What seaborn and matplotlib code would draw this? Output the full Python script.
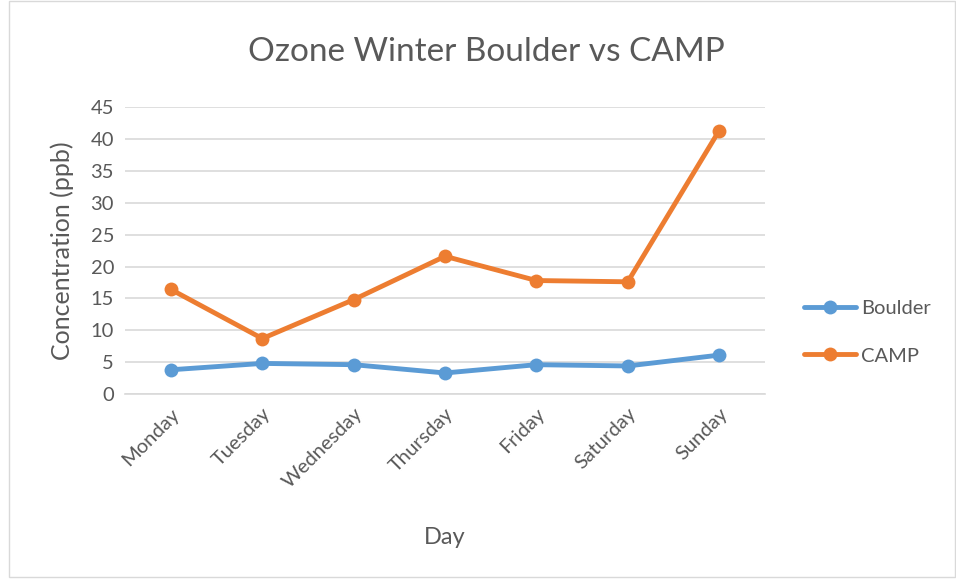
import pandas as pd
import seaborn as sns
import matplotlib.pyplot as plt
from matplotlib.patches import Rectangle

# ===============================
# 1. DATA
# ===============================
days = ["Monday", "Tuesday", "Wednesday", "Thursday", "Friday", "Saturday", "Sunday"]
boulder = [3.8, 4.8, 4.6, 3.3, 4.6, 4.4, 6.1]
camp = [16.4, 8.7, 14.8, 21.6, 17.8, 17.6, 41.3]

df = pd.DataFrame({
    "Day": days * 2,
    "Concentration": boulder + camp,
    "Site": ["Boulder"] * len(days) + ["CAMP"] * len(days),
})

# ===============================
# 2. STYLE
# ===============================
sns.set_theme(style="white")
plt.rcParams["font.family"] = ["Lato", "DejaVu Sans"]
text_gray = "#595959"

fig = plt.figure(figsize=(9.56, 5.79), dpi=100)
ax = fig.add_axes([0.131, 0.3195, 0.669, 0.4955])

# ===============================
# 3. PLOT
# ===============================
sns.lineplot(
    data=df,
    x="Day",
    y="Concentration",
    hue="Site",
    palette={"Boulder": "#5B9BD5", "CAMP": "#ED7D31"},
    marker="o",
    markersize=10,
    markeredgewidth=0,
    linewidth=3.5,
    ax=ax,
)

ax.set_ylim(0, 45)
ax.set_yticks(range(0, 46, 5))
ax.set_xlim(-0.5, len(days) - 0.5)
ax.yaxis.grid(True, color="#D9D9D9", linewidth=1.2)
ax.set_axisbelow(True)
for s in ["top", "right", "left"]:
    ax.spines[s].set_visible(False)
ax.spines["bottom"].set_color("#D9D9D9")
ax.spines["bottom"].set_linewidth(1.2)
ax.tick_params(axis="both", length=0, labelsize=14.5, labelcolor=text_gray, pad=8)
plt.setp(ax.get_xticklabels(), rotation=45, ha="right", rotation_mode="anchor")

ax.set_xlabel("Day", fontsize=17, color=text_gray, labelpad=26)
ax.set_ylabel("Concentration (ppb)", fontsize=18, color=text_gray, labelpad=12)
fig.text(0.509, 0.91, "Ozone Winter Boulder vs CAMP", ha="center", va="center",
         fontsize=24, color=text_gray)

ax.legend(loc="center left", bbox_to_anchor=(1.045, 0.215), frameon=False,
          fontsize=14.5, labelcolor=text_gray, handlelength=2.6, handletextpad=0.25,
          labelspacing=1.5, borderpad=0)

fig.patches.append(Rectangle((0.009, 0.004), 0.99, 0.995, transform=fig.transFigure,
                             fill=False, edgecolor="#D9D9D9", linewidth=1))

fig.savefig("out.png", dpi=100)
